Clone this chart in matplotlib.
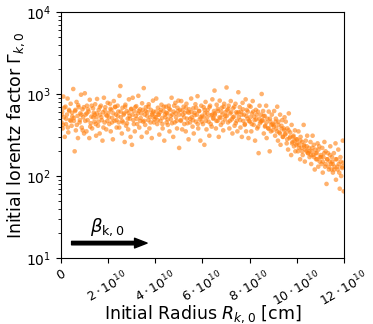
import matplotlib.pyplot as plt
import numpy as np

# initial radius in units of 1e10 cm, and initial Lorentz factor
radius = [
    0.02, 0.05, 0.07, 0.10, 0.12, 0.16, 0.19, 0.21, 0.25, 0.28, 0.31, 0.34, 0.38, 0.41, 0.45, 0.48,
    0.52, 0.55, 0.58, 0.60, 0.63, 0.66, 0.70, 0.72, 0.75, 0.79, 0.82, 0.85, 0.88, 0.91, 0.94, 0.98,
    1.01, 1.04, 1.08, 1.10, 1.13, 1.17, 1.20, 1.22, 1.26, 1.29, 1.32, 1.36, 1.39, 1.42, 1.45, 1.49,
    1.51, 1.53, 1.57, 1.60, 1.64, 1.66, 1.69, 1.73, 1.76, 1.78, 1.82, 1.85, 1.88, 1.92, 1.95, 1.98,
    2.02, 2.05, 2.08, 2.11, 2.14, 2.17, 2.20, 2.24, 2.27, 2.30, 2.33, 2.36, 2.40, 2.43, 2.45, 2.48,
    2.52, 2.54, 2.58, 2.61, 2.63, 2.67, 2.70, 2.73, 2.76, 2.79, 2.83, 2.85, 2.88, 2.91, 2.95, 2.98,
    3.01, 3.04, 3.07, 3.10, 3.13, 3.17, 3.19, 3.23, 3.26, 3.28, 3.32, 3.35, 3.38, 3.42, 3.44, 3.48,
    3.51, 3.55, 3.57, 3.60, 3.64, 3.66, 3.70, 3.72, 3.75, 3.79, 3.81, 3.85, 3.88, 3.90, 3.94, 3.97,
    4.02, 4.04, 4.08, 4.11, 4.13, 4.17, 4.20, 4.22, 4.26, 4.29, 4.31, 4.35, 4.38, 4.41, 4.45, 4.48,
    4.51, 4.53, 4.57, 4.60, 4.63, 4.66, 4.69, 4.72, 4.76, 4.78, 4.82, 4.85, 4.88, 4.92, 4.94, 4.98,
    5.01, 5.05, 5.07, 5.10, 5.14, 5.16, 5.20, 5.23, 5.25, 5.29, 5.32, 5.34, 5.38, 5.41, 5.44, 5.47,
    5.52, 5.54, 5.58, 5.61, 5.63, 5.67, 5.70, 5.72, 5.76, 5.79, 5.82, 5.85, 5.88, 5.91, 5.95, 5.98,
    6.02, 6.05, 6.08, 6.10, 6.13, 6.17, 6.20, 6.22, 6.26, 6.29, 6.32, 6.36, 6.39, 6.42, 6.45, 6.49,
    6.51, 6.53, 6.57, 6.60, 6.64, 6.66, 6.69, 6.73, 6.76, 6.78, 6.82, 6.85, 6.88, 6.92, 6.95, 6.98,
    7.02, 7.05, 7.08, 7.11, 7.14, 7.17, 7.20, 7.24, 7.27, 7.30, 7.33, 7.36, 7.40, 7.43, 7.45, 7.48,
    7.52, 7.54, 7.58, 7.61, 7.63, 7.67, 7.70, 7.73, 7.76, 7.79, 7.83, 7.85, 7.88, 7.91, 7.95, 7.98,
    8.01, 8.04, 8.07, 8.10, 8.13, 8.17, 8.19, 8.23, 8.26, 8.28, 8.32, 8.35, 8.38, 8.42, 8.44, 8.48,
    8.51, 8.55, 8.57, 8.60, 8.64, 8.66, 8.70, 8.72, 8.75, 8.79, 8.81, 8.85, 8.88, 8.90, 8.94, 8.97,
    9.02, 9.04, 9.08, 9.11, 9.13, 9.17, 9.20, 9.22, 9.26, 9.29, 9.31, 9.35, 9.38, 9.41, 9.45, 9.48,
    9.51, 9.53, 9.57, 9.60, 9.63, 9.66, 9.69, 9.72, 9.76, 9.78, 9.82, 9.85, 9.88, 9.92, 9.94, 9.98,
    10.01, 10.05, 10.07, 10.10, 10.14, 10.16, 10.20, 10.23, 10.25, 10.29, 10.32, 10.34, 10.38, 10.41, 10.44, 10.47,
    10.52, 10.54, 10.58, 10.61, 10.63, 10.67, 10.70, 10.72, 10.76, 10.79, 10.82, 10.85, 10.88, 10.91, 10.95, 10.98,
    11.02, 11.05, 11.08, 11.10, 11.13, 11.17, 11.20, 11.22, 11.26, 11.29, 11.32, 11.36, 11.39, 11.42, 11.45, 11.49,
    11.51, 11.53, 11.57, 11.60, 11.64, 11.66, 11.69, 11.73, 11.76, 11.78, 11.82, 11.85, 11.88, 11.92, 11.95, 11.99,
    # denser core of the band
    0.03, 0.09, 0.14, 0.22, 0.29, 0.35, 0.42, 0.47, 0.54, 0.61, 0.67, 0.73, 0.80, 0.86, 0.92, 0.97,
    1.03, 1.09, 1.15, 1.24, 1.30, 1.37, 1.43, 1.47, 1.52, 1.59, 1.65, 1.71, 1.80, 1.86, 1.90, 1.97,
    2.03, 2.10, 2.16, 2.22, 2.29, 2.35, 2.41, 2.47, 2.53, 2.60, 2.66, 2.72, 2.80, 2.86, 2.92, 2.97,
    3.03, 3.09, 3.15, 3.21, 3.30, 3.36, 3.41, 3.47, 3.53, 3.59, 3.65, 3.71, 3.80, 3.86, 3.92, 3.96,
    4.03, 4.10, 4.15, 4.23, 4.30, 4.36, 4.43, 4.47, 4.52, 4.59, 4.65, 4.71, 4.80, 4.86, 4.91, 4.97,
    5.02, 5.09, 5.15, 5.22, 5.30, 5.36, 5.42, 5.48, 5.53, 5.60, 5.66, 5.73, 5.80, 5.86, 5.92, 5.97,
    6.03, 6.09, 6.15, 6.21, 6.30, 6.35, 6.41, 6.47, 6.52, 6.59, 6.65, 6.72, 6.80, 6.86, 6.90, 6.97,
    7.03, 7.10, 7.16, 7.22, 7.29, 7.35, 7.41, 7.47, 7.53, 7.60, 7.66, 7.72, 7.80, 7.86, 7.92, 7.97,
    8.03, 8.09, 8.15, 8.21, 8.30, 8.36, 8.41, 8.47, 8.53, 8.59, 8.65, 8.71, 8.80, 8.86, 8.92, 8.97,
    9.03, 9.10, 9.16, 9.22, 9.29, 9.35, 9.41, 9.47, 9.52, 9.59, 9.65, 9.72, 9.80, 9.86, 9.90, 9.97,
    10.02, 10.09, 10.15, 10.22, 10.30, 10.36, 10.42, 10.48, 10.53, 10.60, 10.66, 10.73, 10.80, 10.86, 10.92, 10.97,
    11.03, 11.10, 11.16, 11.22, 11.29, 11.35, 11.41, 11.47, 11.52, 11.59, 11.65, 11.72, 11.80, 11.86, 11.92, 11.97,
]
gamma = [
    450, 610, 380, 930, 520, 300, 700, 430, 560, 880, 340, 640, 480, 760, 410, 530,
    1150, 470, 200, 620, 360, 800, 540, 290, 690, 450, 580, 980, 390, 650, 520, 330,
    1020, 560, 350, 720, 480, 610, 290, 850, 440, 530, 380, 670, 590, 460, 750, 310,
    520, 870, 410, 640, 330, 560, 720, 480, 270, 600, 900, 450, 690, 370, 540, 780,
    590, 430, 760, 350, 640, 510, 280, 820, 470, 690, 560, 390, 720, 610, 450, 950,
    1250, 520, 330, 680, 450, 580, 260, 740, 410, 620, 500, 370, 860, 540, 300, 660,
    240, 900, 480, 620, 350, 540, 710, 430, 580, 950, 390, 650, 510, 300, 770, 460,
    1180, 560, 420, 690, 340, 600, 480, 750, 380, 520, 640, 290, 580, 830, 450, 530,
    520, 880, 430, 680, 560, 320, 600, 470, 740, 510, 380, 620, 270, 560, 700, 450,
    580, 420, 720, 350, 640, 490, 900, 560, 300, 610, 450, 780, 520, 380, 680, 830,
    220, 640, 480, 820, 370, 560, 700, 430, 590, 350, 760, 500, 610, 280, 650, 450,
    880, 520, 400, 670, 330, 590, 750, 460, 560, 940, 380, 620, 490, 270, 720, 540,
    430, 690, 240, 580, 800, 370, 520, 640, 460, 310, 720, 550, 400, 860, 500, 620,
    1100, 560, 380, 740, 470, 620, 300, 830, 510, 420, 680, 560, 360, 760, 490, 600,
    1200, 640, 450, 720, 380, 580, 820, 490, 330, 670, 530, 410, 760, 600, 470, 350,
    1050, 520, 690, 390, 610, 300, 780, 470, 560, 420, 860, 350, 640, 500, 290, 720,
    460, 700, 350, 580, 820, 420, 530, 270, 640, 490, 380, 610, 190, 720, 440, 560,
    1000, 480, 620, 330, 540, 410, 720, 290, 500, 380, 610, 200, 460, 350, 560, 430,
    420, 620, 310, 500, 380, 700, 270, 460, 340, 560, 240, 410, 480, 300, 380, 520,
    320, 460, 250, 380, 210, 580, 290, 340, 180, 420, 260, 300, 230, 360, 200, 280,
    280, 200, 350, 240, 160, 300, 220, 260, 180, 420, 230, 150, 270, 200, 310, 190,
    220, 170, 260, 140, 200, 310, 180, 240, 120, 210, 160, 190, 250, 130, 230, 170,
    180, 140, 220, 110, 170, 260, 130, 200, 80, 160, 190, 120, 150, 230, 140, 170,
    150, 110, 190, 130, 250, 90, 160, 120, 210, 140, 70, 170, 100, 130, 270, 65,
    # denser core of the band
    560, 420, 680, 500, 390, 620, 470, 590, 510, 640, 420, 730, 480, 560, 360, 690,
    470, 580, 650, 400, 720, 520, 560, 430, 580, 460, 690, 520, 390, 630, 560, 470,
    520, 660, 450, 580, 700, 480, 540, 390, 610, 470, 560, 700, 440, 590, 500, 650,
    560, 430, 690, 500, 620, 470, 580, 640, 470, 620, 540, 700, 450, 560, 610, 490,
    610, 480, 560, 640, 430, 700, 520, 590, 490, 660, 540, 440, 720, 580, 470, 620,
    560, 470, 630, 520, 680, 440, 590, 500, 600, 480, 550, 680, 430, 620, 520, 460,
    520, 640, 470, 580, 690, 430, 560, 510, 580, 470, 660, 520, 610, 450, 700, 540,
    540, 660, 470, 600, 520, 700, 440, 580, 600, 480, 560, 650, 430, 540, 610, 470,
    520, 430, 610, 480, 560, 400, 500, 460, 470, 540, 400, 450, 380, 500, 420, 360,
    400, 460, 350, 420, 330, 380, 300, 360, 330, 280, 360, 300, 250, 310, 270, 240,
    250, 220, 270, 200, 240, 210, 230, 190, 200, 180, 220, 170, 190, 160, 210, 150,
    170, 150, 190, 140, 160, 130, 180, 120, 140, 120, 160, 130, 110, 150, 125, 145,
]
xticks = [0, 2, 4, 6, 8, 10, 12]
xticklabels = ['0'] + [r'$%d\cdot10^{10}$' % t for t in xticks[1:]]

fig = plt.figure(figsize=(3.73, 3.24), dpi=100)
ax = fig.add_axes([0.1635, 0.2037, 0.7587, 0.7593])

ax.scatter(np.array(radius) * 1e10, gamma, s=11, color='#ff7f0e', alpha=0.6,
           edgecolors='none')
ax.set_yscale('log')
ax.set_ylim(10, 1e4)
ax.set_xlim(0, 12e10)
ax.set_xticks([t * 1e10 for t in xticks])
ax.set_xticklabels(xticklabels, rotation=30, fontsize=9)
ax.tick_params(axis='y', labelsize=10)
ax.set_xlabel(r'Initial Radius $R_{k,0}$ [cm]', fontsize=12.5)
ax.set_ylabel(r'Initial lorentz factor $\Gamma_{k,0}$', fontsize=12.5)
ax.xaxis.set_label_coords(0.5, -0.185)
ax.yaxis.set_label_coords(-0.12, 0.5)

ax.annotate('', xy=(3.65e10, 15.2), xytext=(0.45e10, 15.2),
            arrowprops=dict(facecolor='black', width=2.5, headwidth=7, headlength=9))
ax.text(1.95e10, 24, r'$\beta_{\rm k,0}$', fontsize=13, ha='center', va='center')

fig.savefig('out.png', dpi=100)
